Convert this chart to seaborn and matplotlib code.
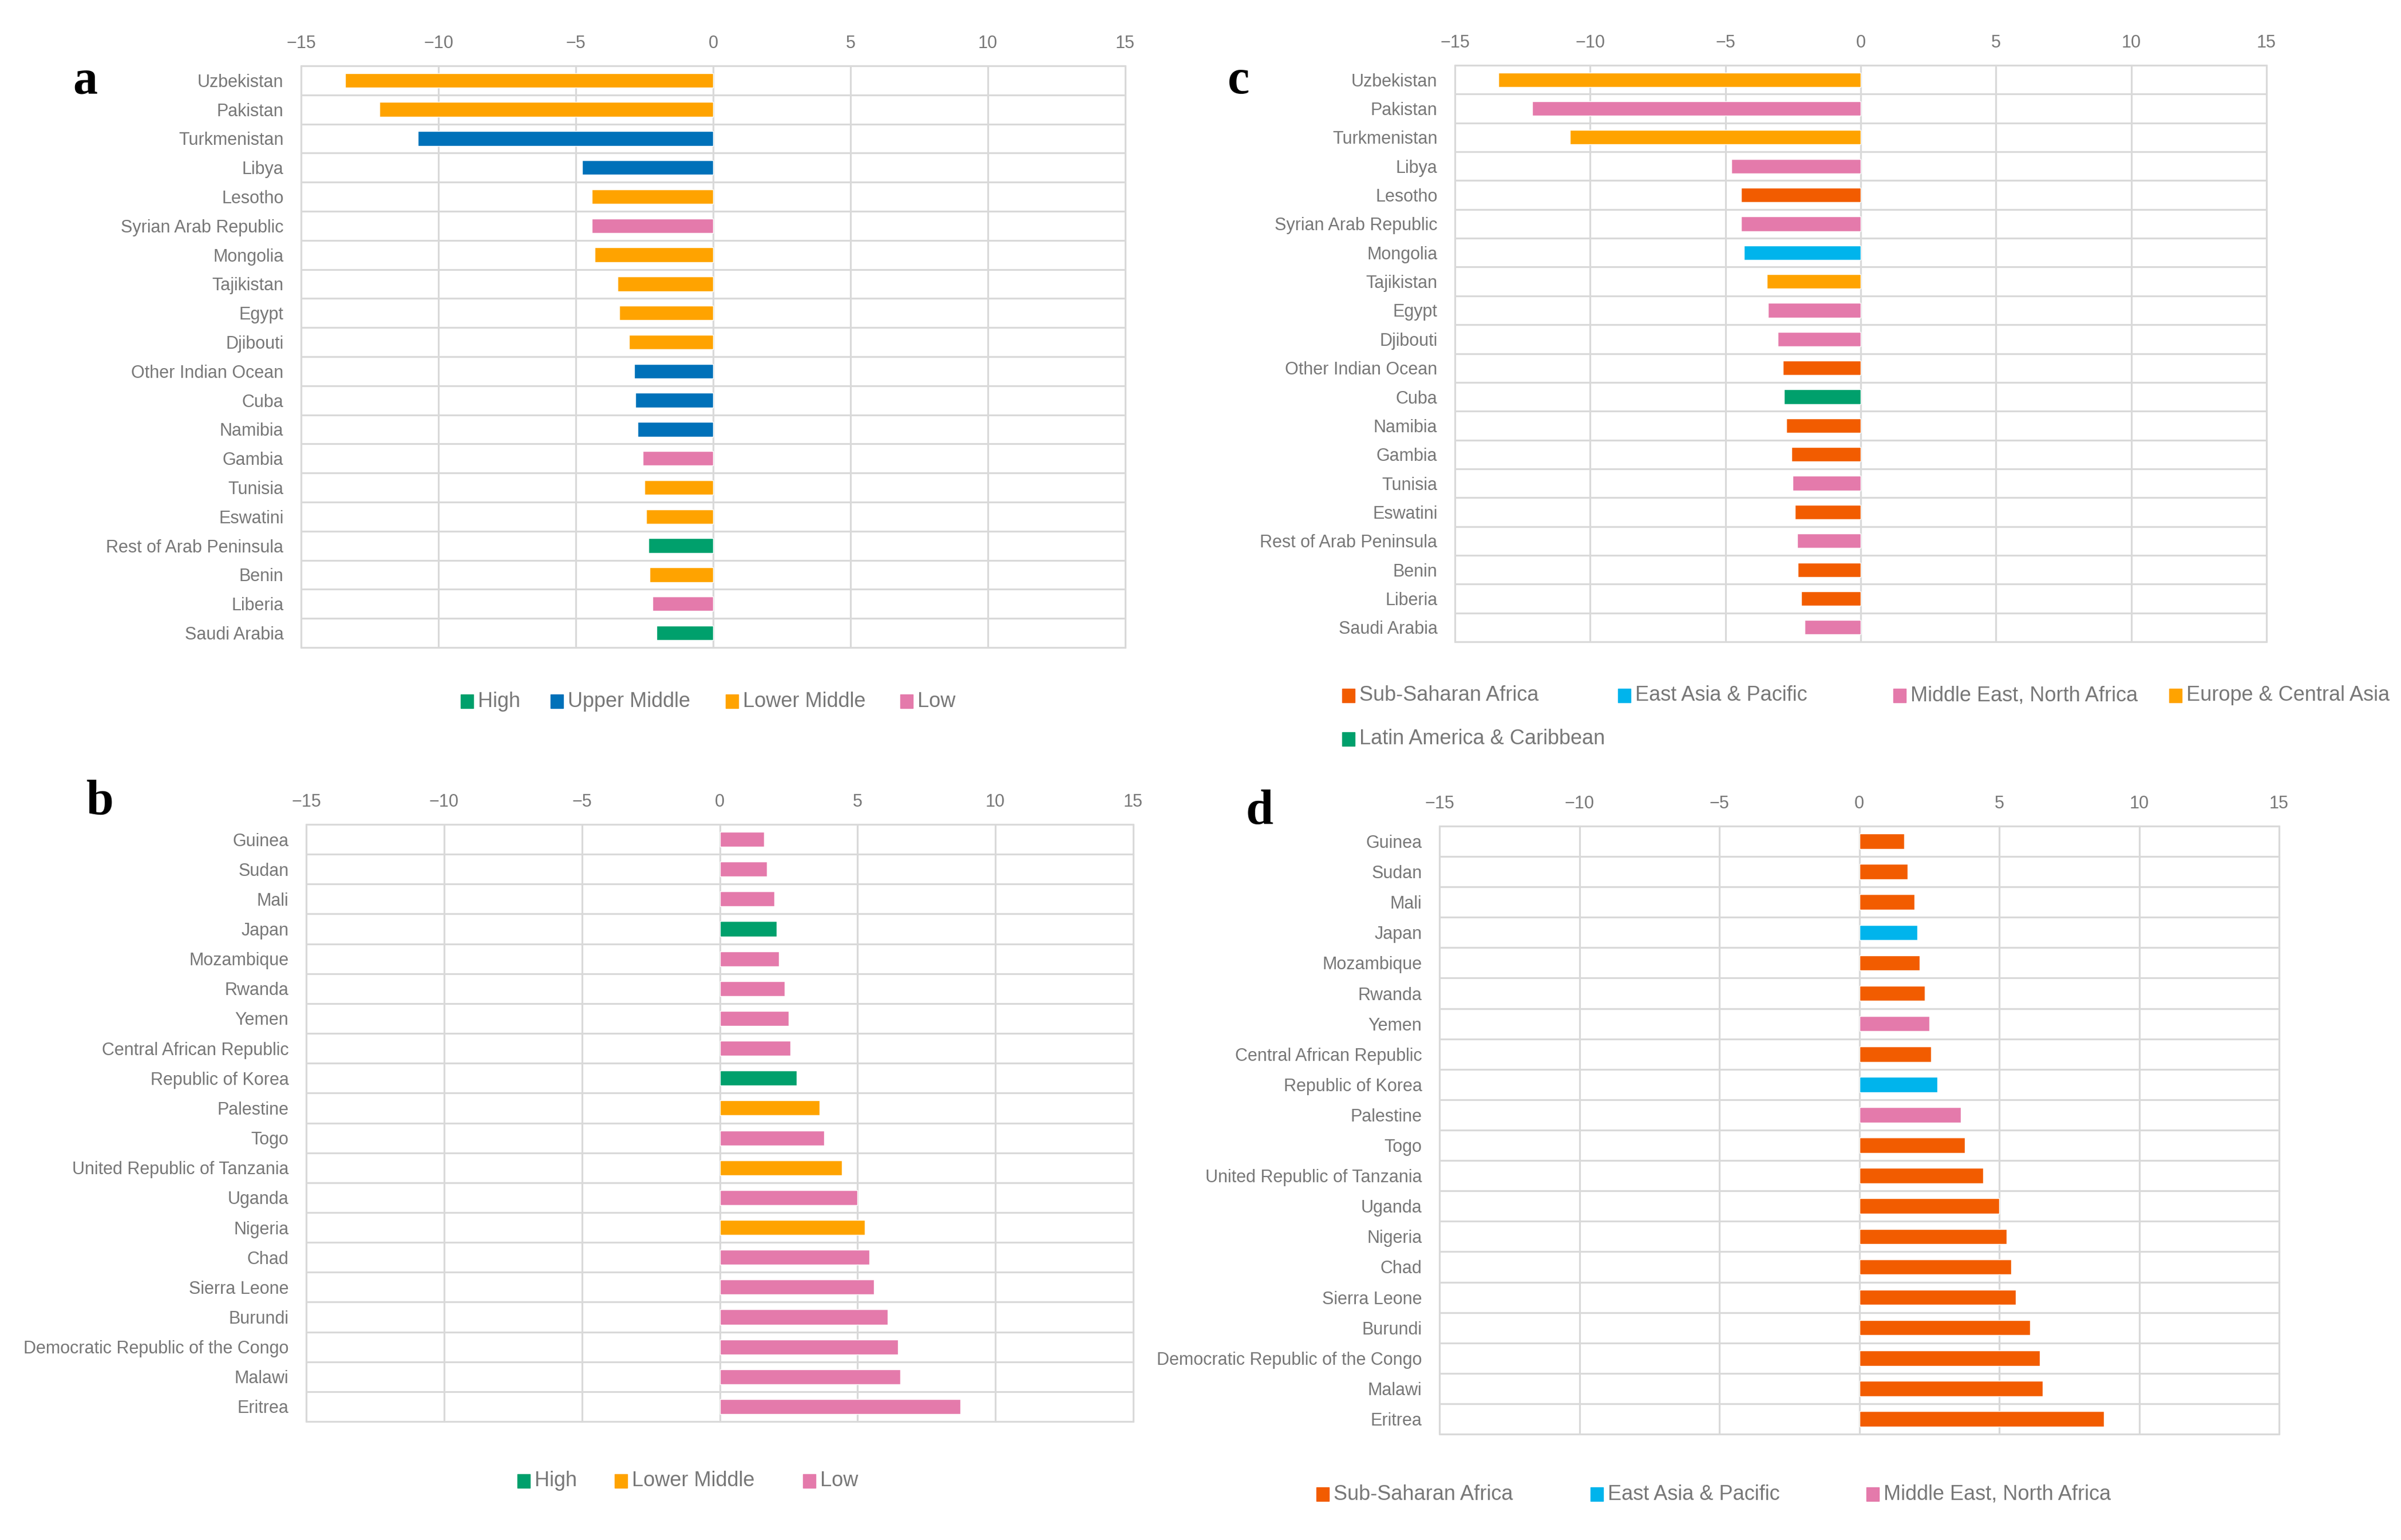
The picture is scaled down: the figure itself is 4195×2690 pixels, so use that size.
import pandas as pd
import numpy as np
import matplotlib
matplotlib.use("Agg")
import matplotlib.pyplot as plt
import seaborn as sns
from matplotlib import font_manager
from matplotlib.patches import Rectangle

# ==============================
# Data
# ==============================

neg_countries = ["Uzbekistan", "Pakistan", "Turkmenistan", "Libya", "Lesotho",
                 "Syrian Arab Republic", "Mongolia", "Tajikistan", "Egypt", "Djibouti",
                 "Other Indian Ocean", "Cuba", "Namibia", "Gambia", "Tunisia",
                 "Eswatini", "Rest of Arab Peninsula", "Benin", "Liberia", "Saudi Arabia"]
neg_values = [-13.4, -12.15, -10.75, -4.78, -4.42, -4.42, -4.32, -3.48, -3.42, -3.07,
              -2.87, -2.84, -2.76, -2.57, -2.51, -2.43, -2.35, -2.32, -2.21, -2.07]
neg_income = ["Lower Middle", "Lower Middle", "Upper Middle", "Upper Middle", "Lower Middle",
              "Low", "Lower Middle", "Lower Middle", "Lower Middle", "Lower Middle",
              "Upper Middle", "Upper Middle", "Upper Middle", "Low", "Lower Middle",
              "Lower Middle", "High", "Lower Middle", "Low", "High"]
neg_region = ["Europe & Central Asia", "Middle East, North Africa", "Europe & Central Asia",
              "Middle East, North Africa", "Sub-Saharan Africa", "Middle East, North Africa",
              "East Asia & Pacific", "Europe & Central Asia", "Middle East, North Africa",
              "Middle East, North Africa", "Sub-Saharan Africa", "Latin America & Caribbean",
              "Sub-Saharan Africa", "Sub-Saharan Africa", "Middle East, North Africa",
              "Sub-Saharan Africa", "Middle East, North Africa", "Sub-Saharan Africa",
              "Sub-Saharan Africa", "Middle East, North Africa"]

pos_countries = ["Guinea", "Sudan", "Mali", "Japan", "Mozambique", "Rwanda", "Yemen",
                 "Central African Republic", "Republic of Korea", "Palestine", "Togo",
                 "United Republic of Tanzania", "Uganda", "Nigeria", "Chad", "Sierra Leone",
                 "Burundi", "Democratic Republic of the Congo", "Malawi", "Eritrea"]
pos_values = [1.6, 1.72, 1.98, 2.07, 2.15, 2.35, 2.5, 2.56, 2.8, 3.62,
              3.78, 4.43, 5.0, 5.27, 5.42, 5.6, 6.1, 6.46, 6.56, 8.74]
pos_income = ["Low", "Low", "Low", "High", "Low", "Low", "Low", "Low", "High", "Lower Middle",
              "Low", "Lower Middle", "Low", "Lower Middle", "Low", "Low", "Low", "Low", "Low", "Low"]
pos_region = ["Sub-Saharan Africa", "Sub-Saharan Africa", "Sub-Saharan Africa",
              "East Asia & Pacific", "Sub-Saharan Africa", "Sub-Saharan Africa",
              "Middle East, North Africa", "Sub-Saharan Africa", "East Asia & Pacific",
              "Middle East, North Africa", "Sub-Saharan Africa", "Sub-Saharan Africa",
              "Sub-Saharan Africa", "Sub-Saharan Africa", "Sub-Saharan Africa",
              "Sub-Saharan Africa", "Sub-Saharan Africa", "Sub-Saharan Africa",
              "Sub-Saharan Africa", "Sub-Saharan Africa"]

x_ticks = [-15, -10, -5, 0, 5, 10, 15]

income_colors = {"High": "#00A06C", "Upper Middle": "#0071B9",
                 "Lower Middle": "#FFA300", "Low": "#E47AAB"}
region_colors = {"Sub-Saharan Africa": "#F25C00", "East Asia & Pacific": "#00B4EC",
                 "Middle East, North Africa": "#E47AAB", "Europe & Central Asia": "#FFA300",
                 "Latin America & Caribbean": "#00A06C"}

# ==============================
# Style
# ==============================

sns.set_theme(style="white")
names = {f.name for f in font_manager.fontManager.ttflist}
narrow = "Liberation Sans Narrow" if "Liberation Sans Narrow" in names else "Liberation Sans"
plt.rcParams["font.family"] = [narrow, "DejaVu Sans"]

TEXT = "#777777"
GRID = "#D9D9D9"
W, H = 4195, 2690

fig = plt.figure(figsize=(W / 100, H / 100), dpi=100)
fig.patch.set_facecolor("white")


def px_axes(left, top, right, bottom):
    return fig.add_axes([left / W, 1 - bottom / H, (right - left) / W, (bottom - top) / H])


def draw_panel(ax, countries, values, groups, palette):
    df = pd.DataFrame({"country": countries, "value": values, "group": groups})
    sns.barplot(data=df, x="value", y="country", hue="group", palette=palette,
                dodge=False, width=0.5, saturation=1, errorbar=None,
                legend=False, ax=ax, zorder=3)
    n = len(countries)
    ax.set_xlim(-15, 15)
    ax.set_ylim(n - 0.5, -0.5)
    for xv in x_ticks:
        ax.axvline(xv, color=GRID, lw=2.3, zorder=1, clip_on=False)
    for k in range(n + 1):
        ax.axhline(k - 0.5, color=GRID, lw=2.3, zorder=1, clip_on=False)
    ax.xaxis.tick_top()
    ax.set_xticks(x_ticks)
    ax.tick_params(axis="x", length=0, pad=17, labelsize=22, labelcolor=TEXT)
    ax.tick_params(axis="y", length=0, pad=22, labelsize=22, labelcolor=TEXT)
    ax.set_xlabel("")
    ax.set_ylabel("")
    for s in ax.spines.values():
        s.set_visible(False)


def add_legend(labels, palette, xs, ys):
    for lab, x, y in zip(labels, xs, ys):
        fig.add_artist(Rectangle((x / W, 1 - (y + 12) / H), 22 / W, 24 / H,
                                 transform=fig.transFigure, color=palette[lab]))
        fig.text((x + 30) / W, 1 - y / H, lab, ha="left", va="center",
                 fontsize=26, color=TEXT)


# ==============================
# Panels
# ==============================

ax_a = px_axes(526, 115, 1966, 1131)
draw_panel(ax_a, neg_countries, neg_values, neg_income, income_colors)
add_legend(["High", "Upper Middle", "Lower Middle", "Low"], income_colors,
           [805, 962, 1268, 1573], [1225] * 4)

ax_c = px_axes(2542, 114, 3960, 1121)
draw_panel(ax_c, neg_countries, neg_values, neg_region, region_colors)
add_legend(["Sub-Saharan Africa", "East Asia & Pacific", "Middle East, North Africa",
            "Europe & Central Asia", "Latin America & Caribbean"], region_colors,
           [2345, 2827, 3308, 3790, 2345], [1215, 1215, 1215, 1215, 1291])

ax_b = px_axes(535, 1440, 1980, 2483)
draw_panel(ax_b, pos_countries, pos_values, pos_income, income_colors)
add_legend(["High", "Lower Middle", "Low"], income_colors,
           [904, 1074, 1403], [2587] * 3)

ax_d = px_axes(2515, 1443, 3982, 2505)
draw_panel(ax_d, pos_countries, pos_values, pos_region, region_colors)
add_legend(["Sub-Saharan Africa", "East Asia & Pacific", "Middle East, North Africa"],
           region_colors, [2300, 2779, 3261], [2610] * 3)

# panel letters
for letter, x, y in [("a", 127, 163), ("b", 151, 1422), ("c", 2145, 163), ("d", 2176, 1439)]:
    fig.text(x / W, 1 - y / H, letter, ha="left", va="baseline", fontsize=62,
             fontweight="bold", family="Liberation Serif", color="black")

fig.savefig("out.png", dpi=100, facecolor="white")
